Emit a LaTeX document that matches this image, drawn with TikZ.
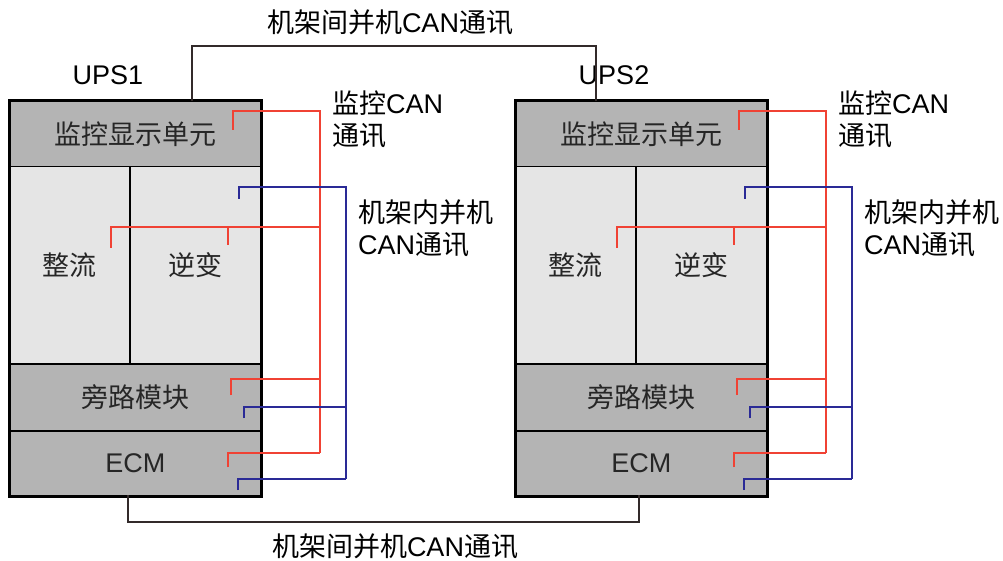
\documentclass[tikz,border=0pt]{standalone}
\usepackage{fontspec}
\setmainfont{Liberation Sans}
\newfontfamily\cjk{Noto Sans CJK SC}
\usetikzlibrary{positioning}

\definecolor{paneldark}{RGB}{180,180,180}
\definecolor{panellight}{RGB}{229,229,229}
\definecolor{canred}{RGB}{240,66,52}
\definecolor{canblue}{RGB}{42,42,150}
\definecolor{linkgray}{RGB}{50,42,42}

\begin{document}
\begin{tikzpicture}[
        x=1pt, y=-1pt,
        every node/.style={font=\fontsize{27}{32}\selectfont},
        module/.style={draw, line width=1.5pt, rectangle, anchor=north west, inner sep=0pt, text=black!85},
        darkmod/.style={module, fill=paneldark},
        lightmod/.style={module, fill=panellight},
        frame/.style={draw, line width=3pt},
        redbus/.style={draw=canred, line width=2.2pt},
        bluebus/.style={draw=canblue, line width=2.2pt},
        link/.style={draw=linkgray, line width=1.5pt},
        note/.style={anchor=west, align=left, inner sep=0pt}
    ]
        \useasboundingbox (0,0) rectangle (1003,561);

        % UPS cabinets
        \foreach \i/\dx in {1/0, 2/506} {
            \begin{scope}[xshift=\dx]
                \node (ups\i) at (108,75) {UPS\i};
                \node[darkmod, minimum width=251, minimum height=65] (mon\i) at (9,101) {{\cjk 监控显示单元}};
                \node[lightmod, minimum width=120, minimum height=197] (rec\i) at (9,166) {{\cjk 整流}};
                \node[lightmod, minimum width=131, minimum height=197] (inv\i) at (129,166) {{\cjk 逆变}};
                \node[darkmod, minimum width=251, minimum height=67] (byp\i) at (9,363) {{\cjk 旁路模块}};
                \node[darkmod, minimum width=251, minimum height=65] (ecm\i) at (9,430) {ECM};
                \draw[frame] (mon\i.north west) rectangle (ecm\i.south east);

                % bus ends
                \coordinate (rmon\i) at (233,130);
                \coordinate (rrec\i) at (111,248);
                \coordinate (rinv\i) at (228,245);
                \coordinate (rbyp\i) at (231,395);
                \coordinate (recm\i) at (228,467);
                \coordinate (rbot\i) at (320,453);
                \coordinate (binv\i) at (239,199);
                \coordinate (bbyp\i) at (244,418);
                \coordinate (becm\i) at (238,490);
                \coordinate (bbot\i) at (346,479);

                % Monitor CAN
                \draw[redbus] (rmon\i) -- ++(0,-19) -| (rbot\i);
                \draw[redbus] (rrec\i) -- ++(0,-21) -| (rbot\i);
                \draw[redbus] (rinv\i) -- ++(0,-18);
                \draw[redbus] (rbyp\i) -- ++(0,-16) -| (rbot\i);
                \draw[redbus] (recm\i) -- ++(0,-14) -| (rbot\i);

                % In-rack parallel CAN
                \draw[bluebus] (binv\i) -- ++(0,-12) -| (bbot\i);
                \draw[bluebus] (bbyp\i) -- ++(0,-11) -| (bbot\i);
                \draw[bluebus] (becm\i) -- ++(0,-11) -| (bbot\i);

                \node[note] (moncan\i) at (332,119) {{\cjk 监控}CAN\\{\cjk 通讯}};
                \node[note] (parcan\i) at (358,228) {{\cjk 机架内并机}\\CAN{\cjk 通讯}};
            \end{scope}
        }

        % Rack-to-rack links
        \coordinate (ltop1) at (192,101);
        \coordinate (ltop2) at (596,101);
        \coordinate (lbot1) at (128,495);
        \coordinate (lbot2) at (639,495);
        \draw[link] (ltop1) -- ++(0,-55) -| (ltop2);
        \draw[link] (lbot1) -- ++(0,27) -| (lbot2);
        \node[inner sep=0pt] (toplink) at (390,22) {{\cjk 机架间并机}CAN{\cjk 通讯}};
        \node[inner sep=0pt] (botlink) at (395,546) {{\cjk 机架间并机}CAN{\cjk 通讯}};

    \end{tikzpicture}
\end{document}
